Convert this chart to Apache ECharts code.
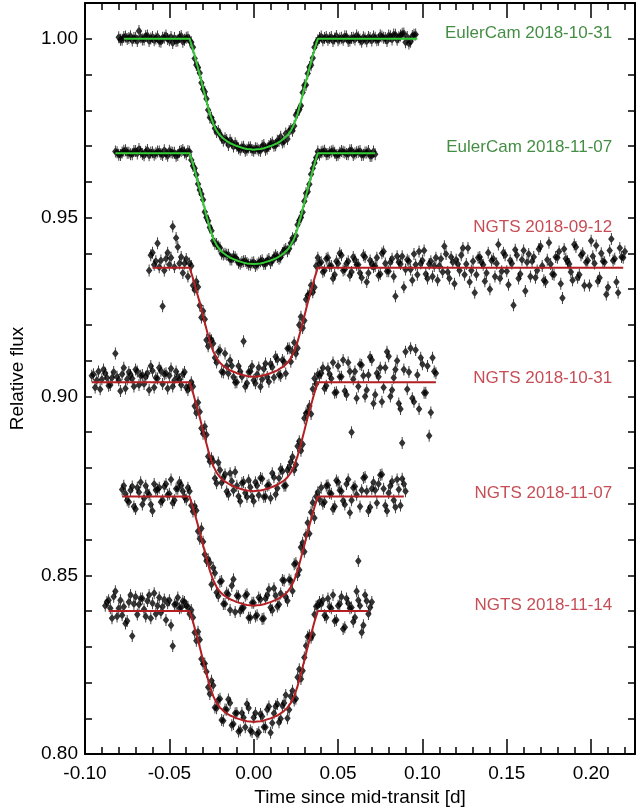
<!DOCTYPE html>
<html><head><meta charset="utf-8">
<script src="https://cdn.jsdelivr.net/npm/echarts@6/dist/echarts.min.js"></script>
<style>html,body{margin:0;padding:0;background:#fff}#c{width:638px;height:812px}</style>
</head><body><div id="c"></div>
<script>
// ---- data ----
const e1Times = [-0.080,-0.078,-0.076,-0.074,-0.072,-0.070,-0.068,-0.066,-0.064,-0.062,-0.060,-0.058,-0.056,-0.054,-0.052,-0.050,-0.048,-0.046,-0.044,-0.042,-0.040,
 -0.038,-0.036,-0.034,-0.032,-0.030,-0.028,-0.026,-0.024,-0.022,-0.020,-0.018,-0.016,-0.014,-0.012,-0.010,-0.008,-0.006,-0.004,-0.002,0.000,0.002,0.004,0.006,0.008,0.010,0.012,0.014,0.016,0.018,0.020,0.022,0.024,0.026,0.028,0.030,0.032,0.034,0.036,0.038,
 0.040,0.042,0.044,0.046,0.048,0.050,0.052,0.054,0.056,0.058,0.060,0.062,0.064,0.066,0.068,0.070,0.072,0.074,0.076,0.078,0.080,0.082,0.084,0.086,0.088,0.090,0.092,0.094,0.096];
const e1Flux = [1.0004,0.9997,1.0006,1.0002,0.9995,1.0003,1.0022,0.9998,1.0008,0.9994,1.0005,1.0001,0.9993,1.0003,1.0009,0.9996,0.9988,0.9994,1.0005,0.9992,1.0003,
 0.9995,0.9976,0.9927,0.9904,0.9859,0.9832,0.9780,0.9767,0.9739,0.9732,0.9715,0.9717,0.9716,0.9699,0.9701,0.9690,0.9698,0.9690,0.9697,0.9687,0.9693,0.9687,0.9703,0.9693,0.9706,0.9701,0.9715,0.9726,0.9713,0.9720,0.9748,0.9756,0.9794,0.9813,0.9870,0.9903,0.9926,0.9976,0.9996,
 1.0006,1.0002,0.9997,1.0005,1.0001,0.9996,1.0003,1.0007,0.9994,1.0002,0.9998,1.0004,0.9992,1.0001,1.0005,0.9995,1.0003,0.9997,1.0006,1.0002,1.0009,0.9998,1.0011,1.0004,1.0014,0.9990,0.9987,1.0008,1.0012];

const e2Times = [-0.082,-0.080,-0.078,-0.076,-0.074,-0.072,-0.070,-0.068,-0.066,-0.064,-0.062,-0.060,-0.058,-0.056,-0.054,-0.052,-0.050,-0.048,-0.046,-0.044,-0.042,-0.040,
 -0.038,-0.036,-0.034,-0.032,-0.030,-0.028,-0.026,-0.024,-0.022,-0.020,-0.018,-0.016,-0.014,-0.012,-0.010,-0.008,-0.006,-0.004,-0.002,0.000,0.002,0.004,0.006,0.008,0.010,0.012,0.014,0.016,0.018,0.020,0.022,0.024,0.026,0.028,0.030,0.032,0.034,0.036,0.038,
 0.040,0.042,0.044,0.046,0.048,0.050,0.052,0.054,0.056,0.058,0.060,0.062,0.064,0.066,0.068,0.070,0.072];
const e2Flux = [0.9685,0.9676,0.9682,0.9688,0.9681,0.9677,0.9686,0.9692,0.9678,0.9684,0.9674,0.9683,0.9680,0.9685,0.9675,0.9678,0.9687,0.9681,0.9672,0.9684,0.9689,0.9677,
 0.9684,0.9644,0.9620,0.9577,0.9550,0.9500,0.9472,0.9435,0.9426,0.9416,0.9397,0.9396,0.9383,0.9391,0.9383,0.9371,0.9378,0.9373,0.9368,0.9375,0.9369,0.9378,0.9370,0.9380,0.9373,0.9389,0.9390,0.9389,0.9409,0.9406,0.9429,0.9439,0.9480,0.9500,0.9546,0.9572,0.9621,0.9653,0.9685,
 0.9683,0.9687,0.9678,0.9685,0.9681,0.9676,0.9686,0.9682,0.9677,0.9688,0.9679,0.9684,0.9675,0.9682,0.9686,0.9673,0.9677];

const n1Times = [-0.062,-0.060,-0.058,-0.056,-0.054,-0.052,-0.050,-0.048,-0.046,-0.044,-0.042,-0.040,
 -0.038,-0.036,-0.034,-0.032,-0.030,-0.028,-0.026,-0.024,-0.022,-0.020,-0.018,-0.016,-0.014,-0.012,-0.010,-0.008,-0.006,-0.004,-0.002,0.000,0.002,0.004,0.006,0.008,0.010,0.012,0.014,0.016,0.018,0.020,0.022,0.024,0.026,0.028,0.030,0.032,0.034,0.036,0.038,
 0.040,0.042,0.044,0.046,0.048,0.050,0.052,0.054,0.056,0.058,0.060,0.062,0.064,0.066,0.068,0.070,0.072,0.074,0.076,0.078,0.080,0.082,0.084,0.086,0.088,0.090,0.092,0.094,0.096,0.098,0.100,0.102,0.104,0.106,0.108,0.110,0.112,0.114,0.116,0.118,0.120,0.122,0.124,0.126,0.128,0.130,0.132,0.134,0.136,0.138,0.140,0.142,0.144,0.146,0.148,0.150,0.152,0.154,0.156,0.158,0.160,0.162,0.164,0.166,0.168,0.170,0.172,0.174,0.176,0.178,0.180,0.182,0.184,0.186,0.188,0.190,0.192,0.194,0.196,0.198,0.200,0.202,0.204,0.206,0.208,0.210,0.212,0.214,0.216,0.218,0.220];
const n1Flux = [0.9352,0.9402,0.9378,0.9361,0.9252,0.9385,0.9368,0.9475,0.9443,0.9372,0.9345,0.9384,
 0.9372,0.9310,0.9321,0.9254,0.9239,0.9158,0.9163,0.9148,0.9095,0.9129,0.9067,0.9085,0.9101,0.9054,0.9040,0.9070,0.9154,0.9037,0.9070,0.9045,0.9061,0.9027,0.9077,0.9054,0.9091,0.9053,0.9103,0.9057,0.9097,0.9134,0.9097,0.9151,0.9135,0.9223,0.9212,0.9282,0.9311,0.9305,0.9388,
 0.9375,0.9352,0.9388,0.9365,0.9340,0.9372,0.9395,0.9355,0.9378,0.9348,
 0.9382,0.9368,0.9332,0.9390,0.9345,0.9370,0.9365,0.9338,0.9400,0.9372,
 0.9350,0.9385,0.9280,0.9375,0.9392,0.9355,0.9378,0.9325,0.9368,0.9405,
 0.9380,0.9342,0.9370,0.9335,0.9388,0.9365,0.9348,0.9398,0.9330,0.9375,
 0.9382,0.9352,0.9415,0.9370,0.9320,0.9378,0.9340,0.9390,0.9368,0.9345,
 0.9300,0.9385,0.9372,0.9330,0.9402,0.9350,0.9380,0.9255,0.9395,0.9342,
 0.9408,0.9375,0.9335,0.9390,0.9352,0.9420,0.9325,0.9382,0.9370,0.9340,
 0.9388,0.9315,0.9412,0.9378,0.9348,0.9425,0.9332,0.9395,0.9310,0.9380,
 0.9435,0.9372,0.9322,0.9400,0.9375,0.9305,0.9440,0.9385,0.9290,0.9390,
 0.9405];

const n2Times = [-0.096,-0.094,-0.092,-0.090,-0.088,-0.086,-0.084,-0.082,-0.080,-0.078,-0.076,-0.074,-0.072,-0.070,-0.068,-0.066,-0.064,-0.062,-0.060,-0.058,-0.056,-0.054,-0.052,-0.050,-0.048,-0.046,-0.044,-0.042,-0.040,
 -0.038,-0.036,-0.034,-0.032,-0.030,-0.028,-0.026,-0.024,-0.022,-0.020,-0.018,-0.016,-0.014,-0.012,-0.010,-0.008,-0.006,-0.004,-0.002,0.000,0.002,0.004,0.006,0.008,0.010,0.012,0.014,0.016,0.018,0.020,0.022,0.024,0.026,0.028,0.030,0.032,0.034,0.036,0.038,
 0.040,0.042,0.044,0.046,0.048,0.050,0.052,0.054,0.056,0.058,0.060,0.062,0.064,0.066,0.068,0.070,0.072,0.074,0.076,0.078,0.080,0.082,0.084,0.086,0.088,0.090,0.092,0.094,0.096,0.098,0.100,0.102,0.104,0.106,0.108];
const n2Flux = [0.9058,0.9025,0.9070,0.9048,0.9065,0.9030,0.9052,0.9120,0.9045,0.9062,0.9022,0.9068,0.9050,0.9075,0.9032,0.9060,0.9055,0.9018,0.9072,0.9052,0.9080,0.9035,0.9065,0.9058,0.9028,0.9070,0.9048,0.9062,0.9025,
 0.9030,0.9028,0.8954,0.8957,0.8896,0.8893,0.8818,0.8818,0.8757,0.8794,0.8773,0.8734,0.8785,0.8737,0.8750,0.8707,0.8761,0.8719,0.8746,0.8707,0.8751,0.8772,0.8719,0.8750,0.8715,0.8774,0.8743,0.8797,0.8750,0.8794,0.8817,0.8794,0.8861,0.8848,0.8939,0.8957,0.8951,0.9050,0.9062,
 0.9065,0.9022,0.9078,0.9050,0.9010,0.9085,0.9055,0.9015,0.9095,0.8900,0.9070,0.9028,0.9088,0.9000,0.9060,0.9102,0.9005,0.9055,0.8985,0.9080,0.9112,0.9018,0.9075,0.8980,0.8870,0.9125,0.9068,0.8995,0.9130,0.8965,0.9090,0.9010,0.8890,0.9108,0.9065];

const n3Times = [-0.078,-0.076,-0.074,-0.072,-0.070,-0.068,-0.066,-0.064,-0.062,-0.060,-0.058,-0.056,-0.054,-0.052,-0.050,-0.048,-0.046,-0.044,-0.042,-0.040,
 -0.038,-0.036,-0.034,-0.032,-0.030,-0.028,-0.026,-0.024,-0.022,-0.020,-0.018,-0.016,-0.014,-0.012,-0.010,-0.008,-0.006,-0.004,-0.002,0.000,0.002,0.004,0.006,0.008,0.010,0.012,0.014,0.016,0.018,0.020,0.022,0.024,0.026,0.028,0.030,0.032,0.034,0.036,0.038,
 0.040,0.042,0.044,0.046,0.048,0.050,0.052,0.054,0.056,0.058,0.060,0.062,0.064,0.066,0.068,0.070,0.072,0.074,0.076,0.078,0.080,0.082,0.084,0.086,0.088,0.090];
const n3Flux = [0.8740,0.8728,0.8705,0.8748,0.8685,0.8732,0.8698,0.8750,0.8725,0.8680,0.8738,0.8745,0.8710,0.8755,0.8728,0.8702,0.8742,0.8760,0.8735,0.8712,
 0.8735,0.8678,0.8681,0.8602,0.8594,0.8540,0.8535,0.8521,0.8452,0.8482,0.8420,0.8451,0.8403,0.8489,0.8443,0.8400,0.8409,0.8447,0.8381,0.8423,0.8388,0.8432,0.8379,0.8444,0.8410,0.8464,0.8413,0.8449,0.8485,0.8429,0.8485,0.8531,0.8501,0.8578,0.8566,0.8647,0.8676,0.8660,0.8732,
 0.8745,0.8705,0.8752,0.8728,0.8692,0.8760,0.8735,0.8698,0.8768,0.8710,0.8748,0.8540,0.8738,0.8775,0.8680,0.8742,0.8738,0.8755,0.8782,0.8695,0.8730,0.8762,0.8690,0.8740,0.8770,0.8735];

const n4Times = [-0.088,-0.086,-0.084,-0.082,-0.080,-0.078,-0.076,-0.074,-0.072,-0.070,-0.068,-0.066,-0.064,-0.062,-0.060,-0.058,-0.056,-0.054,-0.052,-0.050,-0.048,-0.046,-0.044,-0.042,-0.040,
 -0.038,-0.036,-0.034,-0.032,-0.030,-0.028,-0.026,-0.024,-0.022,-0.020,-0.018,-0.016,-0.014,-0.012,-0.010,-0.008,-0.006,-0.004,-0.002,0.000,0.002,0.004,0.006,0.008,0.010,0.012,0.014,0.016,0.018,0.020,0.022,0.024,0.026,0.028,0.030,0.032,0.034,0.036,0.038,
 0.040,0.042,0.044,0.046,0.048,0.050,0.052,0.054,0.056,0.058,0.060,0.062,0.064,0.066,0.068,0.070];
const n4Flux = [0.8415,0.8430,0.8380,0.8455,0.8408,0.8388,0.8365,0.8425,0.8330,0.8440,0.8418,0.8435,0.8385,0.8445,0.8422,0.8392,0.8438,0.8412,0.8375,0.8430,0.8302,0.8420,0.8408,0.8428,0.8415,
 0.8392,0.8382,0.8317,0.8320,0.8252,0.8230,0.8168,0.8192,0.8128,0.8155,0.8093,0.8124,0.8143,0.8084,0.8115,0.8067,0.8102,0.8140,0.8066,0.8102,0.8056,0.8112,0.8076,0.8125,0.8060,0.8114,0.8140,0.8099,0.8143,0.8100,0.8161,0.8150,0.8215,0.8210,0.8270,0.8328,0.8325,0.8390,0.8415,
 0.8420,0.8388,0.8435,0.8408,0.8372,0.8415,0.8440,0.8355,0.8422,0.8410,0.8382,0.8430,0.8340,0.8445,0.8392,0.8425];

// second (interleaved) group of exposures for each light curve
const oddTransitTimes = [-0.039,-0.037,-0.035,-0.033,-0.031,-0.029,-0.027,-0.025,-0.023,-0.021,-0.019,-0.017,-0.015,-0.013,-0.011,-0.009,-0.007,-0.005,-0.003,-0.001,0.001,0.003,0.005,0.007,0.009,0.011,0.013,0.015,0.017,0.019,0.021,0.023,0.025,0.027,0.029,0.031,0.033,0.035,0.037,0.039];

const e1bPreTimes = [-0.079,-0.077,-0.075,-0.073,-0.071,-0.069,-0.067,-0.065,-0.063,-0.061,-0.059,-0.057,-0.055,-0.053,-0.051,-0.049,-0.047,-0.045,-0.043,-0.041];
const e1bPostTimes = [0.041,0.043,0.045,0.047,0.049,0.051,0.053,0.055,0.057,0.059,0.061,0.063,0.065,0.067,0.069,0.071,0.073,0.075,0.077,0.079,0.081,0.083,0.085,0.087,0.089,0.091,0.093,0.095];
const e1bFlux = [0.9997,1.0005,0.9999,1.0007,1.0002,0.9994,1.0004,0.9998,1.0009,1.0001,0.9996,1.0006,0.9992,1.0003,0.9999,1.0005,1.0002,0.9995,1.0008,0.9997,
 1.0004,0.9990,0.9945,0.9920,0.9877,0.9852,0.9801,0.9779,0.9749,0.9742,0.9723,0.9722,0.9703,0.9709,0.9708,0.9694,0.9697,0.9687,0.9696,0.9689,
 0.9694,0.9688,0.9700,0.9690,0.9700,0.9710,0.9702,0.9714,0.9710,0.9735,0.9742,0.9743,0.9787,0.9802,0.9850,0.9871,0.9921,0.9946,0.9988,1.0002,
 0.9996,1.0005,1.0002,0.9994,1.0008,1.0001,0.9997,1.0006,0.9995,1.0003,1.0009,0.9998,1.0004,0.9993,1.0002,1.0006,0.9996,1.0010,1.0003,0.9994,1.0007,1.0012,0.9997,1.0009,1.0015,1.0005,0.9992,1.0011];

const e2bPreTimes = [-0.081,-0.079,-0.077,-0.075,-0.073,-0.071,-0.069,-0.067,-0.065,-0.063,-0.061,-0.059,-0.057,-0.055,-0.053,-0.051,-0.049,-0.047,-0.045,-0.043,-0.041];
const e2bPostTimes = [0.041,0.043,0.045,0.047,0.049,0.051,0.053,0.055,0.057,0.059,0.061,0.063,0.065,0.067,0.069,0.071];
const e2bFlux = [0.9683,0.9675,0.9687,0.9681,0.9677,0.9686,0.9679,0.9684,0.9674,0.9689,0.9682,0.9676,0.9685,0.9678,0.9688,0.9673,0.9683,0.9681,0.9675,0.9686,0.9682,
 0.9686,0.9661,0.9638,0.9594,0.9566,0.9516,0.9491,0.9463,0.9427,0.9419,0.9399,0.9399,0.9396,0.9383,0.9389,0.9374,0.9376,0.9379,0.9369,0.9374,
 0.9365,0.9374,0.9381,0.9371,0.9384,0.9380,0.9395,0.9385,0.9401,0.9412,0.9413,0.9442,0.9449,0.9492,0.9515,0.9568,0.9593,0.9638,0.9668,0.9676,
 0.9685,0.9677,0.9682,0.9687,0.9674,0.9681,0.9684,0.9678,0.9688,0.9675,0.9683,0.9686,0.9676,0.9682,0.9672,0.9685];

const n1bPreTimes = [-0.061,-0.059,-0.057,-0.055,-0.053,-0.051,-0.049,-0.047,-0.045,-0.043,-0.041];
const n1bPostTimes = [0.041,0.043,0.045,0.047,0.049,0.051,0.053,0.055,0.057,0.059,0.061,0.063,0.065,0.067,0.069,0.071,0.073,0.075,0.077,0.079,0.081,0.083,0.085,0.087,0.089,0.091,0.093,0.095,0.097,0.099,0.101,0.103,0.105,0.107,0.109,0.111,0.113,0.115,0.117,0.119,0.121,0.123,0.125,0.127,0.129,0.131,0.133,0.135,0.137,0.139,0.141,0.143,0.145,0.147,0.149,0.151,0.153,0.155,0.157,0.159,0.161,0.163,0.165,0.167,0.169,0.171,0.173,0.175,0.177,0.179,0.181,0.183,0.185,0.187,0.189,0.191,0.193,0.195,0.197,0.199,0.201,0.203,0.205,0.207,0.209,0.211,0.213,0.215,0.217,0.219];
const n1bFlux = [0.9395,0.9368,0.9428,0.9380,0.9352,0.9402,0.9388,0.9362,0.9418,0.9390,0.9372,
 0.9335,0.9365,0.9298,0.9306,0.9221,0.9216,0.9140,0.9157,0.9108,0.9125,0.9069,0.9120,0.9064,0.9086,0.9039,0.9085,0.9055,0.9028,0.9068,0.9085,
 0.9037,0.9081,0.9048,0.9092,0.9041,0.9082,0.9111,0.9061,0.9102,0.9064,0.9135,0.9124,0.9119,0.9200,0.9191,0.9271,0.9288,0.9291,0.9365,0.9372,
 0.9348,0.9385,0.9365,0.9330,0.9378,0.9400,0.9352,0.9372,0.9338,0.9390,
 0.9368,0.9345,0.9395,0.9320,0.9380,0.9362,0.9388,0.9342,0.9405,0.9350,
 0.9375,0.9335,0.9392,0.9370,0.9305,0.9382,0.9355,0.9398,0.9340,0.9372,
 0.9408,0.9330,0.9378,0.9365,0.9325,0.9385,0.9420,0.9348,0.9390,0.9315,
 0.9370,0.9395,0.9340,0.9415,0.9352,0.9290,0.9388,0.9375,0.9322,0.9402,
 0.9380,0.9335,0.9425,0.9350,0.9395,0.9312,0.9372,0.9410,0.9330,0.9382,
 0.9295,0.9398,0.9378,0.9332,0.9412,0.9365,0.9320,0.9430,0.9342,0.9390,
 0.9405,0.9275,0.9385,0.9370,0.9325,0.9418,0.9340,0.9400,0.9375,0.9310,
 0.9392,0.9422,0.9332,0.9378,0.9285,0.9408,0.9380,0.9320,0.9415,0.9388];

const n2bPreTimes = [-0.095,-0.093,-0.091,-0.089,-0.087,-0.085,-0.083,-0.081,-0.079,-0.077,-0.075,-0.073,-0.071,-0.069,-0.067,-0.065,-0.063,-0.061,-0.059,-0.057,-0.055,-0.053,-0.051,-0.049,-0.047,-0.045,-0.043,-0.041];
const n2bPostTimes = [0.041,0.043,0.045,0.047,0.049,0.051,0.053,0.055,0.057,0.059,0.061,0.063,0.065,0.067,0.069,0.071,0.073,0.075,0.077,0.079,0.081,0.083,0.085,0.087,0.089,0.091,0.093,0.095,0.097,0.099,0.101,0.103,0.105,0.107];
const n2bFlux = [0.9062,0.9045,0.9020,0.9075,0.9052,0.9032,0.9068,0.9055,0.9015,0.9080,0.9048,0.9060,0.9028,0.9070,0.9058,0.9035,0.9065,0.9085,0.9025,0.9050,0.9072,0.9062,0.9022,0.9078,0.9045,0.9055,0.9032,0.9068,
 0.9018,0.9040,0.8973,0.8983,0.8911,0.8916,0.8832,0.8827,0.8771,0.8815,0.8759,0.8782,0.8726,0.8763,0.8789,0.8721,0.8758,0.8730,0.8766,0.8720,
 0.8760,0.8724,0.8770,0.8720,0.8753,0.8785,0.8726,0.8771,0.8790,0.8751,0.8802,0.8831,0.8809,0.8875,0.8866,0.8953,0.8973,0.9021,0.9035,0.9058,
 0.9080,0.9030,0.9062,0.9095,0.9012,0.9055,0.9102,0.9005,0.9070,0.9048,0.8995,0.9090,0.9058,0.9018,0.9110,0.8980,0.9065,0.9080,0.9025,0.9125,0.9000,0.9052,0.9100,0.8965,0.9075,0.9020,0.9135,0.8985,0.9060,0.9108,0.9010,0.9085,0.8955,0.9070];

const n3bPreTimes = [-0.077,-0.075,-0.073,-0.071,-0.069,-0.067,-0.065,-0.063,-0.061,-0.059,-0.057,-0.055,-0.053,-0.051,-0.049,-0.047,-0.045,-0.043,-0.041];
const n3bPostTimes = [0.041,0.043,0.045,0.047,0.049,0.051,0.053,0.055,0.057,0.059,0.061,0.063,0.065,0.067,0.069,0.071,0.073,0.075,0.077,0.079,0.081,0.083,0.085,0.087,0.089];
const n3bFlux = [0.8750,0.8710,0.8738,0.8692,0.8745,0.8760,0.8715,0.8732,0.8698,0.8755,0.8740,0.8705,0.8748,0.8725,0.8768,0.8710,0.8742,0.8752,0.8718,
 0.8745,0.8695,0.8693,0.8623,0.8631,0.8558,0.8545,0.8474,0.8506,0.8442,0.8484,0.8420,0.8446,0.8471,0.8397,0.8441,0.8408,0.8443,0.8381,0.8423,
 0.8385,0.8438,0.8378,0.8435,0.8461,0.8402,0.8443,0.8418,0.8487,0.8439,0.8488,0.8456,0.8534,0.8515,0.8591,0.8613,0.8616,0.8703,0.8720,0.8712,
 0.8700,0.8750,0.8730,0.8685,0.8765,0.8738,0.8708,0.8755,0.8675,0.8745,0.8725,0.8692,0.8772,0.8735,0.8690,0.8760,0.8702,0.8780,0.8742,0.8680,0.8750,0.8710,0.8768,0.8695,0.8755];

const n4bPreTimes = [-0.087,-0.085,-0.083,-0.081,-0.079,-0.077,-0.075,-0.073,-0.071,-0.069,-0.067,-0.065,-0.063,-0.061,-0.059,-0.057,-0.055,-0.053,-0.051,-0.049,-0.047,-0.045,-0.043,-0.041];
const n4bPostTimes = [0.041,0.043,0.045,0.047,0.049,0.051,0.053,0.055,0.057,0.059,0.061,0.063,0.065,0.067,0.069];
const n4bFlux = [0.8425,0.8408,0.8440,0.8385,0.8430,0.8412,0.8372,0.8445,0.8420,0.8390,0.8435,0.8405,0.8428,0.8380,0.8450,0.8415,0.8395,0.8432,0.8422,0.8360,0.8418,0.8438,0.8410,0.8425,
 0.8412,0.8403,0.8340,0.8342,0.8266,0.8253,0.8187,0.8205,0.8130,0.8151,0.8095,0.8125,0.8153,0.8081,0.8114,0.8063,0.8115,0.8075,0.8129,0.8062,
 0.8115,0.8061,0.8105,0.8075,0.8133,0.8087,0.8134,0.8089,0.8135,0.8165,0.8124,0.8177,0.8155,0.8237,0.8233,0.8303,0.8332,0.8334,0.8413,0.8425,
 0.8430,0.8382,0.8412,0.8445,0.8375,0.8420,0.8350,0.8435,0.8408,0.8370,0.8455,0.8415,0.8360,0.8428,0.8410];

// transit model curves
const modelTimes = [-0.038,-0.036,-0.034,-0.032,-0.030,-0.028,-0.026,-0.024,-0.022,-0.020,-0.018,-0.016,-0.014,-0.012,-0.010,-0.008,-0.006,-0.004,-0.002,0.000,0.002,0.004,0.006,0.008,0.010,0.012,0.014,0.016,0.018,0.020,0.022,0.024,0.026,0.028,0.030,0.032,0.034,0.036,0.038];
const e1Model = [1.0000,0.9970,0.9935,0.9900,0.9862,0.9825,0.9790,0.9762,0.9743,0.9730,0.9721,0.9714,0.9708,0.9704,0.9700,0.9697,0.9694,0.9692,0.9691,0.9690,0.9691,0.9692,0.9694,0.9697,0.9700,0.9704,0.9708,0.9714,0.9721,0.9730,0.9743,0.9762,0.9790,0.9825,0.9862,0.9900,0.9935,0.9970,1.0000];
const e2Model = [0.9680,0.9650,0.9615,0.9580,0.9542,0.9505,0.9470,0.9442,0.9423,0.9410,0.9401,0.9394,0.9388,0.9384,0.9380,0.9377,0.9374,0.9372,0.9371,0.9370,0.9371,0.9372,0.9374,0.9377,0.9380,0.9384,0.9388,0.9394,0.9401,0.9410,0.9423,0.9442,0.9470,0.9505,0.9542,0.9580,0.9615,0.9650,0.9680];
const n1Model = [0.9360,0.9330,0.9296,0.9262,0.9224,0.9188,0.9153,0.9126,0.9107,0.9094,0.9085,0.9079,0.9073,0.9069,0.9065,0.9062,0.9059,0.9057,0.9056,0.9055,0.9056,0.9057,0.9059,0.9062,0.9065,0.9069,0.9073,0.9079,0.9085,0.9094,0.9107,0.9126,0.9153,0.9188,0.9224,0.9262,0.9296,0.9330,0.9360];
const n2Model = [0.9040,0.9010,0.8976,0.8942,0.8904,0.8868,0.8833,0.8806,0.8787,0.8774,0.8765,0.8759,0.8753,0.8749,0.8745,0.8742,0.8739,0.8737,0.8736,0.8735,0.8736,0.8737,0.8739,0.8742,0.8745,0.8749,0.8753,0.8759,0.8765,0.8774,0.8787,0.8806,0.8833,0.8868,0.8904,0.8942,0.8976,0.9010,0.9040];
const n3Model = [0.8720,0.8690,0.8656,0.8622,0.8584,0.8548,0.8513,0.8486,0.8467,0.8454,0.8445,0.8439,0.8433,0.8429,0.8425,0.8422,0.8419,0.8417,0.8416,0.8415,0.8416,0.8417,0.8419,0.8422,0.8425,0.8429,0.8433,0.8439,0.8445,0.8454,0.8467,0.8486,0.8513,0.8548,0.8584,0.8622,0.8656,0.8690,0.8720];
const n4Model = [0.8400,0.8370,0.8335,0.8300,0.8262,0.8225,0.8190,0.8162,0.8143,0.8130,0.8121,0.8114,0.8108,0.8104,0.8100,0.8097,0.8094,0.8092,0.8091,0.8090,0.8091,0.8092,0.8094,0.8097,0.8100,0.8104,0.8108,0.8114,0.8121,0.8130,0.8143,0.8162,0.8190,0.8225,0.8262,0.8300,0.8335,0.8370,0.8400];
const modelStart = [-0.077,-0.082,-0.060,-0.096,-0.078,-0.086];
const modelEnd = [0.097,0.072,0.219,0.108,0.089,0.068];

const labelNames = ['EulerCam 2018-10-31','EulerCam 2018-11-07','NGTS 2018-09-12','NGTS 2018-10-31','NGTS 2018-11-07','NGTS 2018-11-14'];
const labelFlux = [1.0014,0.9696,0.9473,0.9050,0.8729,0.8416];
const labelTime = 0.2125;
const instrument = ['euler','euler','ngts','ngts','ngts','ngts'];

// ---- build ----
const sets = [
  [e1Times,e1Flux,e1Model,[...e1bPreTimes,...oddTransitTimes,...e1bPostTimes],e1bFlux],
  [e2Times,e2Flux,e2Model,[...e2bPreTimes,...oddTransitTimes,...e2bPostTimes],e2bFlux],
  [n1Times,n1Flux,n1Model,[...n1bPreTimes,...oddTransitTimes,...n1bPostTimes],n1bFlux],
  [n2Times,n2Flux,n2Model,[...n2bPreTimes,...oddTransitTimes,...n2bPostTimes],n2bFlux],
  [n3Times,n3Flux,n3Model,[...n3bPreTimes,...oddTransitTimes,...n3bPostTimes],n3bFlux],
  [n4Times,n4Flux,n4Model,[...n4bPreTimes,...oddTransitTimes,...n4bPostTimes],n4bFlux]];
const lineColor = {euler:'#34cc34', ngts:'#b31f22'};
const textColor = {euler:'#157015', ngts:'#b8202a'};
const FONT = '"Liberation Sans", Arial, Helvetica, sans-serif';
const symbolPath = 'path://M3.5,2 L7,7 L3.5,12 L0,7 Z M3,0 L4,0 L4,14 L3,14 Z';

function zip(t, f, out) {
  const n = Math.min(t.length, f.length);
  for (let k = 0; k < n; k++) out.push([t[k], f[k]]);
  return out;
}
const series = [];
sets.forEach((s, i) => {
  const [t, f, m, tb, fb] = s;
  const pts = zip(tb, fb, zip(t, f, []));
  series.push({type:'scatter', data: pts, symbol: symbolPath, symbolSize:[6.5,12],
    itemStyle:{color:'#000'}, z:2, silent:true, animation:false});
  const line = [[modelStart[i], m[0]]];
  modelTimes.forEach((tt, k) => line.push([tt, m[k]]));
  line.push([modelEnd[i], m[m.length-1]]);
  series.push({type:'line', data: line, showSymbol:false, z:3, silent:true, animation:false,
    lineStyle:{color: lineColor[instrument[i]], width:2}});
});
series.push({type:'scatter', symbolSize:0, z:4, silent:true, animation:false,
  data: labelNames.map((nm, i) => ({value:[labelTime, labelFlux[i]],
    label:{show:true, position:'left', distance:0, formatter:nm, color:textColor[instrument[i]],
      fontSize:17, fontFamily:FONT}}))});

const fmtMajor = v => Math.abs(v*20 - Math.round(v*20)) < 1e-6 ? v.toFixed(2) : '';
const XMIN = -0.10, XMAX = 0.226, YMIN = 0.80, YMAX = 1.010;
const axLine = {show:true, onZero:false, lineStyle:{color:'#000', width:2}};
function xAx(pos, interval, len, labels, line) {
  return {type:'value', position:pos, min:XMIN, max:XMAX, interval:interval,
    axisLine: line ? axLine : {show:false, onZero:false},
    axisTick:{show:true, inside:true, length:len, lineStyle:{color:'#000', width:1.5}},
    axisLabel: labels ? {show:true, formatter:fmtMajor, color:'#000', fontSize:19, fontFamily:FONT, margin:10, showMaxLabel:false} : {show:false},
    splitLine:{show:false},
    name: labels ? 'Time since mid-transit [d]' : '', nameLocation:'middle', nameGap:32,
    nameTextStyle:{color:'#000', fontSize:19, fontFamily:FONT}};
}
function yAx(pos, labels) {
  return {type:'value', position:pos, min:YMIN, max:YMAX, interval:0.01,
    axisLine: axLine,
    axisTick:{show:true, inside:true, length:7, lineStyle:{color:'#000', width:1.5}},
    axisLabel: labels ? {show:true, formatter:fmtMajor, color:'#000', fontSize:19, fontFamily:FONT, margin:7} : {show:false},
    splitLine:{show:false},
    name: labels ? 'Relative flux' : '', nameLocation:'middle', nameGap:58,
    nameTextStyle:{color:'#000', fontSize:19, fontFamily:FONT}};
}

const chart = echarts.init(document.getElementById('c'), null, {renderer:'canvas'});
chart.setOption({
  backgroundColor:'#fff',
  animation:false,
  grid:{left:84, right:3, top:3, bottom:57, containLabel:false},
  xAxis:[xAx('bottom',0.05,15,true,true), xAx('bottom',0.01,7,false,false),
         xAx('top',0.05,15,false,true), xAx('top',0.01,7,false,false)],
  yAxis:[yAx('left',true), yAx('right',false)],
  series: series
});
</script></body></html>
